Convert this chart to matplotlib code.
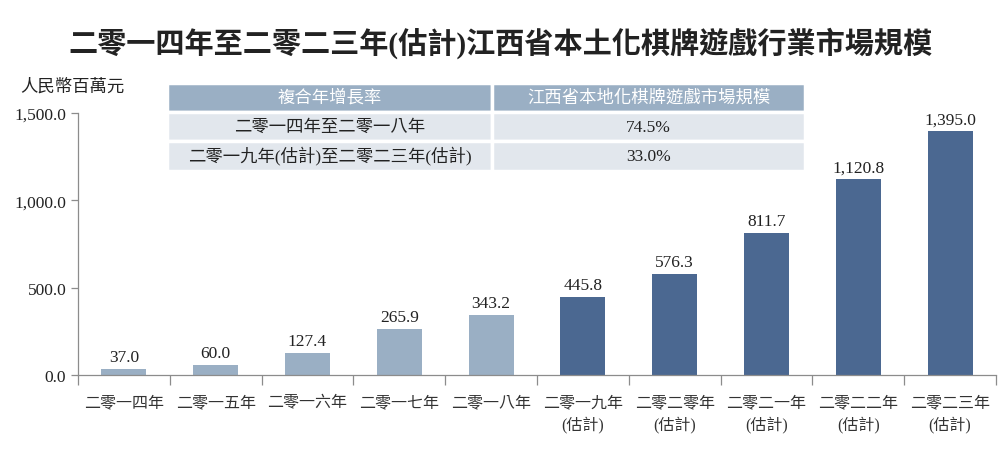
import matplotlib.pyplot as plt
from matplotlib.ticker import FuncFormatter, FixedLocator

plt.rcParams["font.family"] = ["Liberation Serif", "Noto Sans CJK TC"]

years = ["二零一四年", "二零一五年", "二零一六年", "二零一七年", "二零一八年",
         "二零一九年\n(估計)", "二零二零年\n(估計)", "二零二一年\n(估計)",
         "二零二二年\n(估計)", "二零二三年\n(估計)"]
market_size = [37.0, 60.0, 127.4, 265.9, 343.2, 445.8, 576.3, 811.7, 1120.8, 1395.0]
is_forecast = [False] * 5 + [True] * 5

table_header = ["複合年增長率", "江西省本地化棋牌遊戲市場規模"]
table_rows = [["二零一四年至二零一八年", "74.5%"],
              ["二零一九年(估計)至二零二三年(估計)", "33.0%"]]

LIGHT = "#9aafc4"
DARK = "#4b6891"
GRAY = "#8c8c8c"

fig = plt.figure(figsize=(10, 4.52), dpi=100)
ax = fig.add_axes([0.078, 0.168, 0.918, 0.580])

x = list(range(len(years)))
colors = [DARK if f else LIGHT for f in is_forecast]
ax.bar(x, market_size, width=0.49, color=colors)
for xi, v in zip(x, market_size):
    ax.text(xi, v + 22, f"{v:,.1f}", ha="center", va="bottom", fontsize=12.5, color="#222222")

ax.set_xlim(-0.5, len(years) - 0.5)
ax.set_ylim(0, 1500)
ax.set_yticks([0, 500, 1000, 1500])
ax.yaxis.set_major_formatter(FuncFormatter(lambda v, _: f"{v:,.1f}"))
ax.xaxis.set_major_locator(FixedLocator([i - 0.5 for i in range(len(years) + 1)]))
ax.set_xticklabels([])
ax.xaxis.set_minor_locator(FixedLocator(x))
ax.set_xticklabels(years, minor=True)
ax.tick_params(axis="x", which="major", length=7, color=GRAY, width=0.9)
ax.tick_params(axis="x", which="minor", length=0, pad=14, labelsize=11.5, colors="#333333")
ax.tick_params(axis="y", length=5, color=GRAY, width=0.9, labelsize=12.5, colors="#222222")
for side in ["top", "right"]:
    ax.spines[side].set_visible(False)
for side in ["left", "bottom"]:
    ax.spines[side].set_color(GRAY)
    ax.spines[side].set_linewidth(0.9)
for lbl in ax.get_xticklabels(minor=True):
    lbl.set_linespacing(1.35)

fig.text(0.5, 0.905, "二零一四年至二零二三年(估計)江西省本土化棋牌遊戲行業市場規模",
         ha="center", va="center", fontsize=21, fontweight="bold", color="#222222")
fig.text(0.072, 0.807, "人民幣百萬元", ha="center", va="center", fontsize=12.5, color="#222222")

tbl = ax.table(cellText=[table_header] + table_rows, cellLoc="center",
               colWidths=[0.51, 0.49], bbox=[0.097, 0.779, 0.695, 0.336])
for (r, c), cell in tbl.get_celld().items():
    cell.set_edgecolor("white")
    cell.set_linewidth(2.5)
    cell.get_text().set_fontsize(12.5)
    if r == 0:
        cell.set_facecolor(LIGHT)
        cell.get_text().set_color("white")
    else:
        cell.set_facecolor("#e2e7ed")
        cell.get_text().set_color("#222222")
tbl.auto_set_font_size(False)

fig.savefig("out.png", dpi=100)
